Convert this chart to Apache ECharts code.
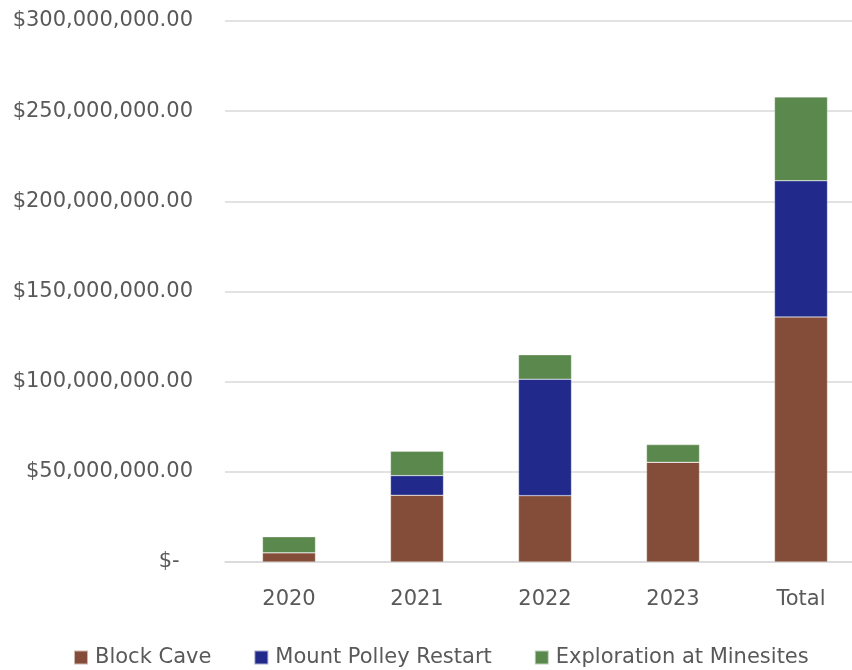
<!DOCTYPE html>
<html>
<head>
<meta charset="utf-8">
<script src="https://cdn.jsdelivr.net/npm/echarts@6/dist/echarts.min.js"></script>
<style>
  html, body { margin: 0; padding: 0; background: #fff; }
  #chart { width: 852px; height: 670px; }
</style>
</head>
<body>
<div id="chart"></div>
<script>
  // categories and values (dollars)
  const categories = ['2020', '2021', '2022', '2023', 'Total'];
  const blockCave = [5100000, 37000000, 36800000, 55300000, 135900000];
  const mountPolley = [0, 10900000, 64600000, 0, 75500000];
  const exploration = [8900000, 13500000, 13500000, 9800000, 46500000];
  const yTicks = [0, 50000000, 100000000, 150000000, 200000000, 250000000, 300000000];

  const labelColor = '#595959';
  const font = 'DejaVu Sans';

  function money(v) {
    if (v === 0) return '$-  ';
    return '$' + v.toLocaleString('en-US', {minimumFractionDigits: 2, maximumFractionDigits: 2});
  }

  function bar(name, data, color) {
    return {
      name: name,
      type: 'bar',
      stack: 'total',
      barWidth: 53,
      data: data,
      itemStyle: {color: color, borderColor: 'rgba(255,255,255,0.6)', borderWidth: 0.5},
      emphasis: {disabled: true}
    };
  }

  let chart = echarts.init(document.getElementById('chart'));
  chart.setOption({
    animation: false,
    backgroundColor: '#fff',
    // plot runs past the right edge in the reference
    grid: {left: 225, width: 640, top: 21, height: 541, outerBoundsMode: 'none'},
    legend: {
      left: 73,
      top: 647,
      padding: 0,
      itemWidth: 14,
      itemHeight: 14,
      itemGap: 42,
      icon: 'rect',
      textStyle: {color: labelColor, fontSize: 21, fontFamily: font, padding: [0, 0, 0, 2]},
      data: ['Block Cave', 'Mount Polley Restart', 'Exploration at Minesites']
    },
    xAxis: {
      type: 'category',
      data: categories,
      axisTick: {show: false},
      axisLine: {lineStyle: {color: '#d9d9d9', width: 1.5}},
      axisLabel: {color: labelColor, fontSize: 21, fontFamily: font, margin: 27}
    },
    yAxis: {
      type: 'value',
      min: yTicks[0],
      max: yTicks[yTicks.length - 1],
      interval: yTicks[1] - yTicks[0],
      axisLine: {show: false},
      axisTick: {show: false},
      splitLine: {lineStyle: {color: '#d9d9d9', width: 1.5}},
      axisLabel: {color: labelColor, fontSize: 21, fontFamily: font, margin: 32, formatter: money}
    },
    series: [
      bar('Block Cave', blockCave, '#844d3a'),
      bar('Mount Polley Restart', mountPolley, '#212a8a'),
      bar('Exploration at Minesites', exploration, '#5b884c')
    ]
  });
</script>
</body>
</html>
